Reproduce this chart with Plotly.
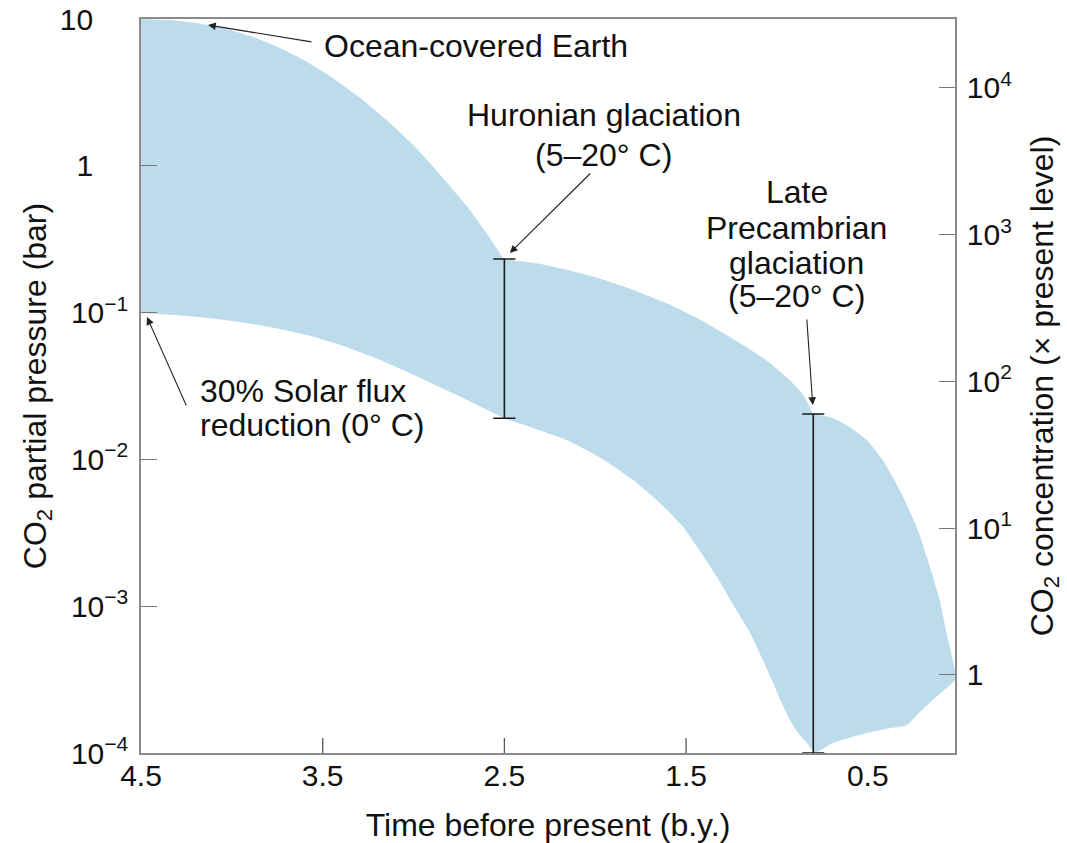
import math
import plotly.graph_objects as go

# ---- data ----
# upper boundary of the CO2 band (time in b.y. before present, pressure in bar)
upper_t = [4.50, 4.35, 4.20, 4.05, 3.90, 3.75, 3.60, 3.45, 3.30, 3.15, 3.00, 2.85, 2.70, 2.60, 2.50,
           2.47, 2.30, 2.15, 1.97, 1.79, 1.60, 1.42, 1.24, 1.06, 0.93, 0.85, 0.80,
           0.79, 0.69, 0.60, 0.506, 0.418, 0.324, 0.231, 0.176, 0.104, 0.066, 0.02]
upper_p = [10.0, 9.84, 9.42, 8.71, 7.69, 6.47, 5.22, 4.02, 2.94, 2.06, 1.38, 0.861, 0.519, 0.351, 0.232,
           0.228, 0.2148, 0.195, 0.170, 0.1426, 0.1148, 0.0891, 0.0661, 0.0475, 0.0347, 0.0269, 0.0204,
           0.0204, 0.0191, 0.01663, 0.01355, 0.0099, 0.00618, 0.00347, 0.00219, 0.0011, 0.000656, 0.000363]
# lower boundary
lower_t = [4.50, 4.32, 4.14, 3.955, 3.77, 3.587, 3.40, 3.223, 3.04, 2.855, 2.68, 2.50,
           2.33, 2.157, 1.97, 1.791, 1.65, 1.516, 1.42, 1.33, 1.24, 1.148, 1.08, 1.022, 0.97,
           0.929, 0.88, 0.835, 0.79,
           0.693, 0.60, 0.506, 0.40, 0.286, 0.214, 0.142, 0.02]
lower_p = [0.0995, 0.0964, 0.0923, 0.0863, 0.0789, 0.0703, 0.0600, 0.0499, 0.0398, 0.0311, 0.0245, 0.0191,
           0.0162, 0.01355, 0.01023, 0.00724, 0.00513, 0.00347, 0.00234, 0.00158, 0.00102, 0.00066,
           0.000437, 0.000302, 0.000214,
           0.000168, 0.000135, 0.000117, 0.000101,
           0.000117, 0.000127, 0.000137, 0.000146, 0.000155, 0.00019, 0.00023, 0.000316]

# glaciation ranges (time, top, bottom)
glac_t = [2.5, 0.8]
glac_top = [0.232, 0.0204]
glac_bot = [0.0191, 0.0001]

present_level = 3.4e-4  # bar, for the right-hand axis

PAD = "<sup>\u2007\u2007\u2007</sup>"
left_tickvals = [10, 1, 0.1, 0.01, 0.001, 0.0001]
left_ticktext = ["10" + PAD, "1" + PAD, "10<sup>\u22121</sup>",
                 "10<sup>\u22122</sup>", "10<sup>\u22123</sup>", "10<sup>\u22124</sup>"]
right_tickvals = [1, 10, 100, 1000, 10000]
right_ticktext = ["1", "10<sup>1</sup>", "10<sup>2</sup>", "10<sup>3</sup>", "10<sup>4</sup>"]
x_tickvals = [4.5, 3.5, 2.5, 1.5, 0.5]
x_tickmarks = [3.5, 2.5, 1.5]

FONT = "Liberation Sans, Arial, sans-serif"
FS = 30
AFS = 32
TFS = 32
fill_col = "#BCDCEB"

fig = go.Figure()
fig.add_trace(go.Scatter(
    x=upper_t + lower_t[::-1], y=upper_p + lower_p[::-1],
    mode="lines", fill="toself", fillcolor=fill_col,
    line=dict(width=0, color=fill_col, shape="spline", smoothing=0.5),
    hoverinfo="skip", showlegend=False))

fig.add_trace(go.Scatter(
    x=glac_t, y=glac_top, mode="markers",
    marker=dict(size=1, color="rgba(0,0,0,0)"),
    error_y=dict(type="data", symmetric=False,
                 array=[0 for _ in glac_t],
                 arrayminus=[a - b for a, b in zip(glac_top, glac_bot)],
                 color="#1a1a1a", thickness=1.6, width=11),
    hoverinfo="skip", showlegend=False))

# empty trace so that the right-hand axis is drawn
fig.add_trace(go.Scatter(x=[], y=[], yaxis="y2", hoverinfo="skip", showlegend=False))

lo, hi = -4, 1.0005
off = -math.log10(present_level)
fig.update_layout(
    width=1067, height=843,
    margin=dict(l=141, r=112, t=19, b=90, autoexpand=False),
    paper_bgcolor="white", plot_bgcolor="white",
    font=dict(family=FONT, size=FS, color="#111"),
    showlegend=False,
    xaxis=dict(range=[4.5, 0.02], tickvals=x_tickvals, ticktext=[str(v) for v in x_tickvals],
               ticks="", showgrid=False, zeroline=False, automargin=False,
               showline=True, linecolor="#8a8a8a", linewidth=1.5, mirror=True,
               title=dict(text="Time before present (b.y.)", standoff=24, font=dict(size=TFS)),
               ticklabelstandoff=-5),
    yaxis=dict(type="log", range=[lo, hi], tickvals=left_tickvals, ticktext=left_ticktext,
               ticks="inside", ticklen=16, tickcolor="#777", tickwidth=1.3,
               showgrid=False, zeroline=False, automargin=False, ticklabeloverflow="allow",
               showline=True, linecolor="#8a8a8a", linewidth=1.5, mirror=True,
               title=dict(text="CO<sub>2</sub> partial pressure (bar)", standoff=4,
                          font=dict(size=TFS)),
               ticklabelstandoff=5),
    yaxis2=dict(type="log", range=[lo + off, hi + off], overlaying="y", side="right",
                tickvals=right_tickvals, ticktext=right_ticktext, automargin=False,
                ticklabeloverflow="allow",
                ticks="inside", ticklen=16, tickcolor="#777", tickwidth=1.3,
                showgrid=False, zeroline=False, showline=True, linecolor="#8a8a8a", linewidth=1.5,
                title=dict(text="CO<sub>2</sub> concentration (\u00d7 present level)", standoff=19,
                           font=dict(size=TFS)),
                ticklabelstandoff=4),
)

for tv in x_tickmarks:
    fig.add_shape(type="line", xref="x", yref="y domain", x0=tv, x1=tv, y0=0, y1=15 / 734,
                  line=dict(color="#555", width=1.3))

arrow = dict(showarrow=True, arrowhead=2, arrowsize=1.4, arrowwidth=1.1, arrowcolor="#222",
             text="", axref="x", ayref="y", standoff=0)
# arrows: head (x, log y) and tail (ax, log ay)
fig.add_annotation(x=4.131, y=0.959, ax=3.554, ay=0.843, **arrow)
fig.add_annotation(x=4.467, y=-1.030, ax=4.247, ay=-1.643, **arrow)
fig.add_annotation(x=2.470, y=-0.594, ax=2.019, ay=-0.042, **arrow)
fig.add_annotation(x=0.803, y=-1.629, ax=0.836, ay=-1.037, **arrow)

txt = dict(showarrow=False, yanchor="middle", font=dict(size=AFS))
fig.add_annotation(x=3.504, y=0.816, text="Ocean-covered Earth", xanchor="left", **txt)
fig.add_annotation(x=1.953, y=0.346, text="Huronian glaciation", xanchor="center", **txt)
fig.add_annotation(x=1.953, y=0.074, text="(5\u201320\u00b0 C)", xanchor="center", **txt)
for yl, line in zip([-0.178, -0.424, -0.662, -0.887],
                    ["Late", "Precambrian", "glaciation", "(5\u201320\u00b0 C)"]):
    fig.add_annotation(x=0.891, y=yl, text=line, xanchor="center", **txt)
fig.add_annotation(x=4.186, y=-1.534, text="30% Solar flux", xanchor="left", **txt)
fig.add_annotation(x=4.186, y=-1.766, text="reduction (0\u00b0 C)", xanchor="left", **txt)

fig.write_html("out.html")
